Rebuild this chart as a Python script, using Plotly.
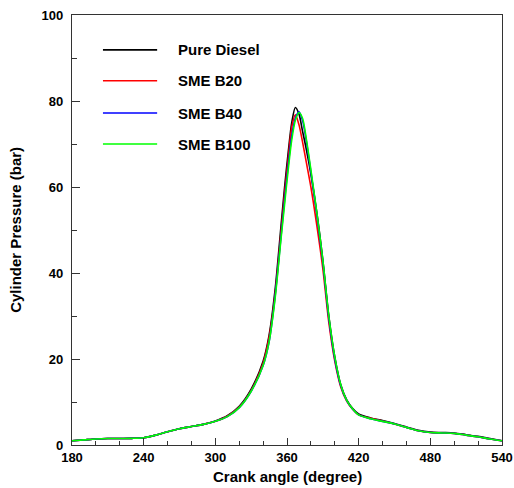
import plotly.graph_objects as go

# Crank angle (degree)
angle = [180, 190, 200, 210, 220, 230, 240, 250, 260, 270, 280, 290, 300, 310, 320, 330,
         340, 345, 350, 355, 358, 361, 364, 367, 370, 373, 376, 380, 385, 390, 395, 400,
         405, 410, 415, 420, 430, 440, 450, 460, 470, 480, 490, 500, 510, 520, 530, 540]

pure_diesel = [1.0, 1.2, 1.4, 1.5, 1.5, 1.55, 1.7, 2.3, 3.1, 3.8, 4.3, 4.8, 5.6, 6.8, 9.0, 13.0,
               19.5, 25.5, 36.0, 51.0, 60.0, 68.0, 75.0, 78.5, 77.0, 73.0, 69.0, 63.0, 54.0, 43.0, 30.0, 20.5,
               14.0, 10.5, 8.5, 7.2, 6.3, 5.7, 5.0, 4.2, 3.4, 3.0, 2.9, 2.8, 2.4, 2.0, 1.5, 1.0]

sme_b20 = [1.0, 1.2, 1.4, 1.5, 1.5, 1.55, 1.7, 2.3, 3.1, 3.8, 4.3, 4.8, 5.5, 6.7, 8.8, 12.7,
           19.0, 25.0, 35.0, 49.5, 58.5, 66.5, 74.0, 76.8, 74.5, 70.5, 66.0, 60.0, 51.0, 41.0, 28.5, 19.5,
           13.5, 10.2, 8.3, 7.0, 6.2, 5.6, 4.9, 4.1, 3.3, 2.9, 2.8, 2.7, 2.3, 1.9, 1.4, 1.0]

sme_b40 = [1.0, 1.2, 1.4, 1.5, 1.5, 1.55, 1.7, 2.3, 3.1, 3.8, 4.3, 4.8, 5.5, 6.6, 8.7, 12.5,
           18.5, 24.0, 34.5, 48.5, 57.0, 65.0, 72.0, 76.0, 77.5, 75.5, 71.0, 63.5, 53.5, 42.5, 29.5, 20.0,
           13.8, 10.3, 8.3, 7.0, 6.1, 5.5, 4.9, 4.1, 3.3, 2.9, 2.8, 2.7, 2.3, 1.9, 1.4, 1.0]

sme_b100 = [1.0, 1.2, 1.4, 1.5, 1.5, 1.55, 1.7, 2.3, 3.1, 3.8, 4.3, 4.8, 5.5, 6.6, 8.7, 12.5,
            18.5, 24.0, 34.0, 48.0, 56.0, 64.0, 71.0, 75.5, 77.3, 76.0, 71.5, 64.0, 54.0, 43.0, 30.0, 20.5,
            14.0, 10.4, 8.4, 7.0, 6.1, 5.5, 4.9, 4.1, 3.3, 2.9, 2.8, 2.7, 2.3, 1.9, 1.4, 1.0]

series_names = ["Pure Diesel", "SME B20", "SME B40", "SME B100"]
series_values = [pure_diesel, sme_b20, sme_b40, sme_b100]
series_colors = ["#000000", "#ff0000", "#0000ff", "#00ff00"]

x_ticks = [180, 240, 300, 360, 420, 480, 540]
y_ticks = [0, 20, 40, 60, 80, 100]
x_title = "Crank angle (degree)"
y_title = "Cylinder Pressure (bar)"

FONT = "Liberation Sans, Arial, sans-serif"

fig = go.Figure()
for name, vals, col in zip(series_names, series_values, series_colors):
    fig.add_trace(go.Scatter(x=angle, y=vals, mode="lines", name=name,
                             line=dict(color=col, width=1.6, shape="spline", smoothing=0.8),
                             showlegend=False))

# manual legend (long sample lines as in the reference)
leg_y = [0.919, 0.847, 0.772, 0.700]
shapes = []
annotations = []
for name, col, yy in zip(series_names, series_colors, leg_y):
    shapes.append(dict(type="line", xref="paper", yref="paper", x0=0.072, x1=0.198, y0=yy, y1=yy,
                       line=dict(color=col, width=1.6)))
    annotations.append(dict(xref="paper", yref="paper", x=0.242, y=yy, xanchor="left", yanchor="middle",
                            text="<b>%s</b>" % name, showarrow=False,
                            font=dict(family=FONT, size=15, color="#000")))

# axis titles as annotations for exact placement
annotations.append(dict(xref="paper", yref="paper", x=0.5, y=-0.074, xanchor="center", yanchor="middle",
                        text="<b>%s</b>" % x_title, showarrow=False,
                        font=dict(family=FONT, size=15, color="#000")))
annotations.append(dict(xref="paper", yref="paper", x=-0.133, y=0.5, xanchor="center", yanchor="middle",
                        text="<b>%s</b>" % y_title, showarrow=False, textangle=-90,
                        font=dict(family=FONT, size=15, color="#000")))

fig.update_layout(
    width=514, height=488,
    margin=dict(l=72, r=12, t=15, b=43),
    paper_bgcolor="white", plot_bgcolor="white",
    font=dict(family=FONT, color="#000"),
    shapes=shapes, annotations=annotations,
    xaxis=dict(range=[180, 540], tickvals=x_ticks, ticktext=["<b>%d</b>" % v for v in x_ticks],
               ticks="inside", ticklen=7, tickwidth=1.2, tickcolor="#333",
               minor=dict(dtick=20, ticks="inside", ticklen=4, tickcolor="#333", tickwidth=1),
               showline=True, linecolor="#333", linewidth=1.2, mirror=True, showgrid=False,
               zeroline=False, tickfont=dict(family=FONT, size=13), ticklabelstandoff=0,
               ticklabeloverflow="allow", automargin=False),
    yaxis=dict(range=[0, 100], tickvals=y_ticks, ticktext=["<b>%d</b>" % v for v in y_ticks],
               ticks="inside", ticklen=8, tickwidth=1.2, tickcolor="#333",
               minor=dict(dtick=10, ticks="inside", ticklen=5, tickcolor="#333", tickwidth=1),
               showline=True, linecolor="#333", linewidth=1.2, mirror=True, showgrid=False,
               zeroline=False, tickfont=dict(family=FONT, size=13), ticklabelstandoff=5,
               ticklabeloverflow="allow", automargin=False),
)

# remove the default page margin so the figure fills the window exactly
fig.write_html("out.html", config={"displayModeBar": False},
               post_script="document.body.style.margin='0';document.body.style.overflow='hidden';")
